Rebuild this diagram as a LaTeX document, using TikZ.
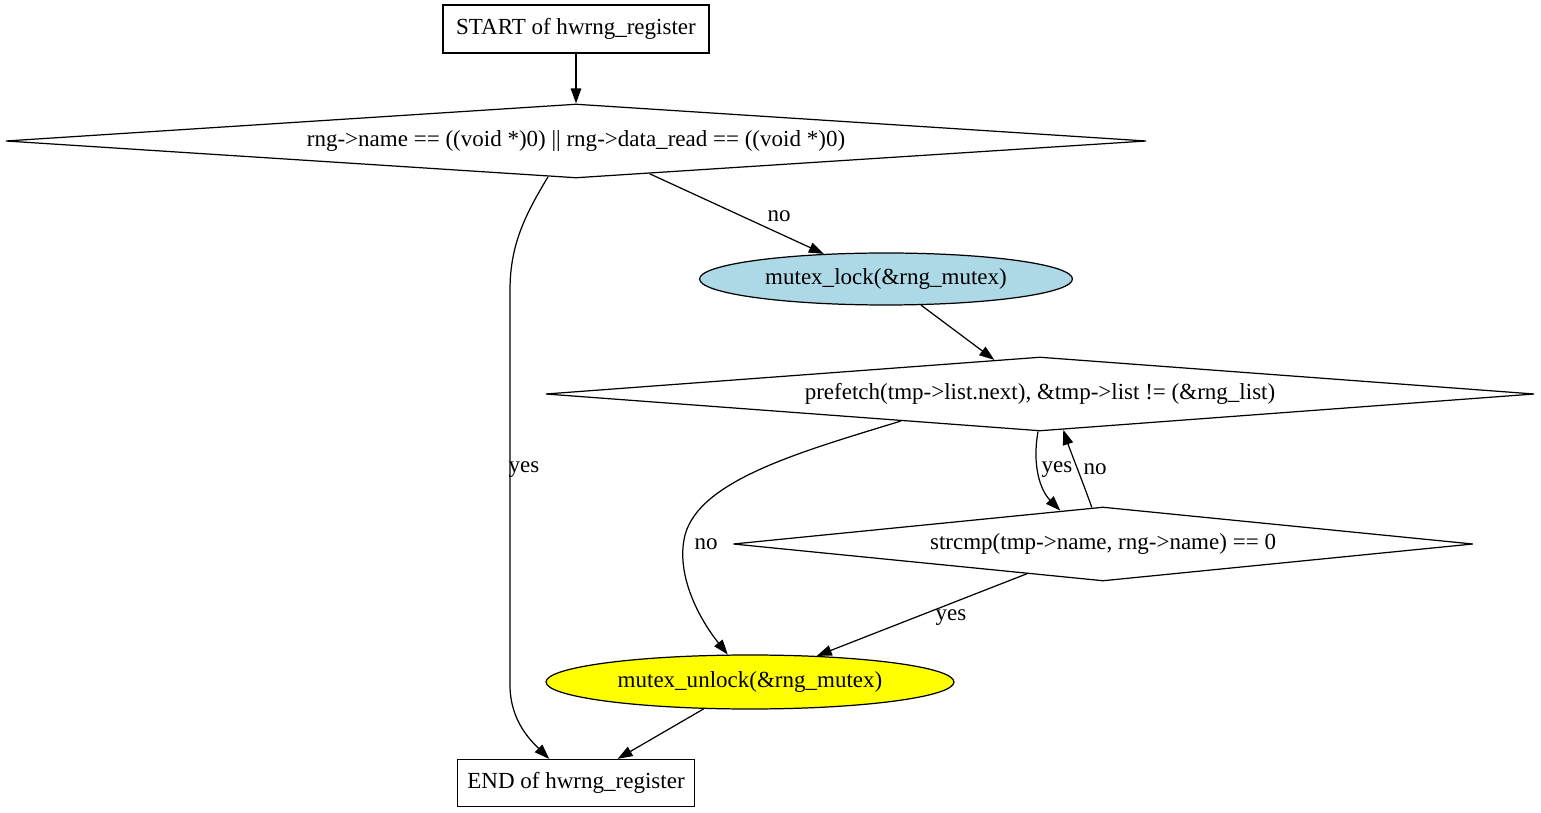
\documentclass[tikz,border=0pt]{standalone}
\usepackage{fontspec}
\setmainfont{Liberation Serif}
\usepackage{tikz}
\usetikzlibrary{shapes.geometric,arrows.meta}

\begin{document}
\begin{tikzpicture}[x=0.02cm,y=-0.02cm,line width=0.7pt,
  every node/.style={font=\fontsize{13.1}{15}\selectfont},
  box/.style={draw,rectangle,inner sep=0pt},
  test/.style={draw,diamond,aspect=15,inner sep=0pt,minimum height=1.48cm},
  call/.style={draw,ellipse,inner sep=0pt},
  lbl/.style={inner sep=1pt},
  edge/.style={-{Triangle[length=0.3cm,width=0.21cm]}}]

\useasboundingbox (0,0) rectangle (1541,813);

\node[box,minimum width=5.32cm,minimum height=0.96cm] (start) at (576,29) {START of hwrng\_register};
\node[test,minimum width=22.82cm] (d1) at (576,141) {rng->name == ((void *)0) || rng->data\_read == ((void *)0)};
\node[call,fill={rgb,255:red,173;green,216;blue,230},minimum width=7.46cm,minimum height=1.04cm] (lock) at (886,279) {mutex\_lock(\&rng\_mutex)};
\node[test,minimum width=19.78cm] (d2) at (1040,394) {prefetch(tmp->list.next), \&tmp->list != (\&rng\_list)};
\node[test,minimum width=14.8cm] (d3) at (1103,544) {strcmp(tmp->name, rng->name) == 0};
\node[call,fill={rgb,255:red,255;green,255;blue,0},minimum width=8.16cm,minimum height=1.08cm] (unlock) at (750,682) {mutex\_unlock(\&rng\_mutex)};
\node[box,minimum width=4.74cm,minimum height=0.94cm] (end) at (576,783) {END of hwrng\_register};

\draw[edge] (start) -- (d1);
\draw[edge] (d1.-24) -- (lock.158);
\draw[edge] (d1.232) .. controls (525,215) and (510,245) .. (510,290) -- (510,685)
  .. controls (510,720) and (530,740) .. (end.138);
\draw[edge] (lock) -- (d2);
\draw[edge] (d2.-93) .. controls (1032,465) and (1040,490) .. (d3.142);
\draw[edge] (d3.107) .. controls (1082,480) and (1070,450) .. (d2.-57);
\draw[edge] (d2.191) .. controls (800,452) and (700,480) .. (685,535)
  .. controls (675,575) and (700,620) .. (unlock.129);
\draw[edge] (d3) -- (unlock);
\draw[edge] (unlock) -- (end);

\node[lbl] (l1) at (779,216) {no};
\node[lbl] (l2) at (524,470) {yes};
\node[lbl] (l3) at (1057,470) {yes};
\node[lbl] (l4) at (1095,469) {no};
\node[lbl] (l5) at (706,544) {no};
\node[lbl] (l6) at (951,618) {yes};

\end{tikzpicture}
\end{document}
